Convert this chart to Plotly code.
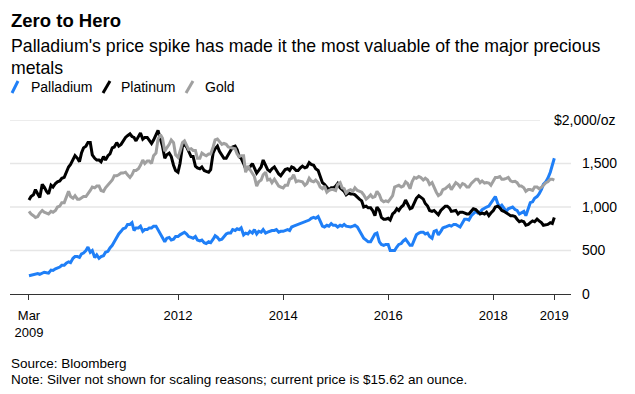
import pandas as pd
import plotly.graph_objects as go

# Semi-monthly dates (1st and 15th of each month), Mar 2009 - Mar 2019
dates = pd.date_range("2009-03-01", "2019-03-01", freq="SMS")

palladium = [
    210, 215, 220, 230, 235, 225, 240, 250, 245, 240, 275, 270, 290, 300, 310, 330, 330, 355, 370, 360,
    410, 430, 430, 420, 460, 470, 500, 540, 480, 500, 420, 450, 410, 430, 440, 480, 490, 530, 560, 600, 650, 690, 720, 750,
    760, 800, 800, 820, 730, 760, 760, 780, 720, 740, 740, 760, 760, 780, 780, 740, 700, 660, 600, 640, 650, 620, 630, 660,
    660, 680, 700, 710, 690, 660, 650, 640, 660, 620, 610, 620, 590, 580, 600, 590, 630, 670, 650, 620, 630, 660, 690, 700,
    700, 740, 730, 750, 740, 760, 680, 700, 690, 720, 700, 740, 690, 720, 710, 740, 700, 710, 720, 730, 730, 740, 710, 720,
    720, 730, 740, 730, 770, 780, 790, 800, 810, 820, 830, 840, 850, 870, 880, 870, 890, 840, 780, 770, 790, 780, 810, 790,
    790, 770, 790, 780, 800, 780, 770, 770, 780, 790, 770, 730, 680, 640, 620, 600, 600, 650, 690, 700, 600, 570, 560, 570,
    570, 500, 500, 500, 540, 570, 580, 610, 630, 600, 560, 560, 620, 680, 700, 710, 710, 690, 700, 660, 640, 720, 730, 680,
    720, 760, 770, 780, 790, 780, 800, 800, 780, 770, 820, 860, 860, 850, 900, 920, 950, 930, 940, 970, 990, 1000, 1010, 1040,
    1080, 1120, 1040, 1000, 1020, 990, 950, 980, 990, 1000, 970, 960, 920, 930, 950, 900, 980, 1050, 1060, 1100, 1120, 1150, 1200, 1260,
    1290, 1330, 1400, 1480, 1560,
]

platinum = [
    1080, 1120, 1140, 1200, 1150, 1110, 1260, 1230, 1180, 1150, 1250, 1230, 1270, 1290, 1300, 1330, 1340, 1400, 1460, 1490,
    1540, 1590, 1560, 1520, 1620, 1680, 1700, 1740, 1740, 1600, 1560, 1540, 1540, 1520, 1580, 1540, 1590, 1610, 1680, 1690, 1740, 1700, 1720, 1760,
    1800, 1820, 1840, 1810, 1800, 1760, 1820, 1850, 1780, 1800, 1800, 1760, 1730, 1770, 1840, 1880, 1780, 1700, 1560, 1600, 1620, 1580, 1480, 1420,
    1400, 1500, 1700, 1720, 1690, 1640, 1580, 1580, 1470, 1450, 1440, 1460, 1420, 1410, 1400, 1430, 1620, 1670, 1700, 1640, 1600, 1560, 1560, 1600,
    1650, 1690, 1700, 1660, 1580, 1560, 1500, 1440, 1440, 1460, 1500, 1440, 1390, 1420, 1460, 1540, 1480, 1430, 1410, 1440, 1460, 1420, 1380, 1360,
    1400, 1430, 1440, 1420, 1460, 1450, 1420, 1420, 1450, 1470, 1450, 1460, 1510, 1490, 1480, 1440, 1420, 1350, 1280, 1260, 1230, 1200, 1220, 1220,
    1240, 1270, 1220, 1200, 1180, 1140, 1160, 1150, 1150, 1140, 1110, 1090, 1070, 1000, 1010, 990, 990, 960, 900, 1000, 960, 880, 860, 860,
    870, 850, 920, 940, 980, 960, 1000, 1020, 1080, 1040, 980, 990, 1060, 1100, 1130, 1110, 1090, 1040, 1010, 960, 950, 960, 930, 910,
    960, 980, 1010, 1010, 990, 950, 960, 960, 920, 940, 940, 930, 920, 920, 950, 980, 970, 950, 920, 930, 920, 940, 900, 930,
    960, 1000, 1010, 990, 960, 950, 930, 920, 900, 900, 890, 860, 830, 840, 830, 790, 800, 820, 840, 830, 860, 840, 820, 790,
    800, 800, 820, 810, 880,
]

gold = [
    950, 920, 900, 880, 890, 930, 960, 940, 930, 920, 950, 940, 960, 1000, 1010, 1050, 1050, 1120, 1180, 1120,
    1100, 1130, 1090, 1090, 1110, 1120, 1120, 1150, 1190, 1230, 1220, 1240, 1240, 1190, 1180, 1220, 1250, 1270, 1310, 1360, 1360, 1370, 1390, 1390,
    1400, 1370, 1340, 1370, 1420, 1420, 1440, 1480, 1540, 1500, 1530, 1530, 1500, 1590, 1620, 1780, 1830, 1790, 1640, 1680, 1720, 1770, 1740, 1600,
    1570, 1640, 1740, 1760, 1710, 1660, 1670, 1650, 1650, 1560, 1560, 1620, 1600, 1590, 1610, 1610, 1690, 1770, 1780, 1750, 1720, 1730, 1720, 1690,
    1680, 1680, 1670, 1610, 1580, 1590, 1590, 1400, 1470, 1430, 1390, 1350, 1240, 1290, 1310, 1370, 1400, 1310, 1320, 1280, 1320, 1280, 1240, 1230,
    1220, 1250, 1250, 1320, 1330, 1370, 1290, 1300, 1290, 1290, 1250, 1270, 1330, 1300, 1290, 1310, 1280, 1230, 1210, 1240, 1170, 1190, 1200, 1200,
    1190, 1260, 1280, 1220, 1210, 1160, 1190, 1200, 1180, 1220, 1190, 1180, 1170, 1140, 1090, 1110, 1140, 1110, 1120, 1180, 1140, 1080, 1060, 1070,
    1060, 1090, 1130, 1230, 1240, 1250, 1230, 1240, 1290, 1270, 1210, 1290, 1340, 1330, 1350, 1340, 1310, 1330, 1310, 1260, 1280, 1220, 1170, 1130,
    1150, 1200, 1210, 1230, 1250, 1200, 1250, 1280, 1260, 1230, 1270, 1260, 1230, 1230, 1270, 1290, 1320, 1320, 1280, 1300, 1275, 1280, 1275, 1250,
    1310, 1340, 1340, 1350, 1320, 1320, 1330, 1340, 1300, 1290, 1295, 1280, 1240, 1240, 1220, 1180, 1200, 1200, 1190, 1230, 1230, 1210, 1225, 1250,
    1280, 1290, 1320, 1320, 1310,
]

series_names = ["Palladium", "Platinum", "Gold"]
series_colors = ["#1F7FF7", "#000000", "#A0A0A0"]

x_tick_vals = ["2009-03-01", "2012-01-01", "2014-01-01", "2016-01-01", "2018-01-01", "2019-03-01"]
x_tick_text = ["Mar<br>2009", "2012", "2014", "2016", "2018", "2019"]
y_tick_vals = [0, 500, 1000, 1500]
y_tick_text = ["0", "500", "1,000", "1,500"]
y_top_label = "$2,000/oz"

FONT = "Liberation Sans, Arial, sans-serif"
W, H = 635, 394
PL, PR, PT, PB = 10, 571, 120, 294  # plot area in pixels


def px(xp):
    return (xp - PL) / (PR - PL)


def py(yp):
    return (PB - yp) / (PB - PT)


fig = go.Figure()
for name, vals, col in zip(series_names, [palladium, platinum, gold], series_colors):
    fig.add_trace(go.Scatter(x=dates, y=vals, mode="lines", name=name,
                             line=dict(color=col, width=3), showlegend=False,
                             hoverinfo="skip"))

shapes = []
# gridlines
for v in [500, 1000, 1500]:
    shapes.append(dict(type="line", xref="paper", yref="y", x0=0, x1=1, y0=v, y1=v,
                       line=dict(color="#E6E6E6", width=1.3), layer="below"))
shapes.append(dict(type="line", xref="paper", yref="y", x0=0, x1=px(540), y0=2000, y1=2000,
                   line=dict(color="#E6E6E6", width=1.3), layer="below"))

annotations = []
# legend
leg_sw = [(12, 18), (103, 110), (186, 193)]
leg_tx = [29, 119, 203]
for (a, b), tx, name, col in zip(leg_sw, leg_tx, series_names, series_colors):
    shapes.append(dict(type="line", xref="paper", yref="paper", x0=px(a), x1=px(b),
                       y0=py(93), y1=py(81), line=dict(color=col, width=3)))
    annotations.append(dict(text=name, xref="paper", yref="paper", x=px(tx), y=py(87),
                            xanchor="left", yanchor="middle", showarrow=False,
                            font=dict(size=14, color="#000", family=FONT)))

annotations += [
    dict(text="<b>Zero to Hero</b>", xref="paper", yref="paper", x=px(9), y=py(20),
         xanchor="left", yanchor="middle", showarrow=False,
         font=dict(size=18.5, color="#000", family=FONT)),
    dict(text="Palladium's price spike has made it the most valuable of the major precious",
         xref="paper", yref="paper", x=px(9), y=py(46), xanchor="left", yanchor="middle",
         showarrow=False, font=dict(size=17.7, color="#000", family=FONT)),
    dict(text="metals", xref="paper", yref="paper", x=px(9), y=py(68), xanchor="left",
         yanchor="middle", showarrow=False, font=dict(size=17.7, color="#000", family=FONT)),
    dict(text="Source: Bloomberg", xref="paper", yref="paper", x=px(9), y=py(363),
         xanchor="left", yanchor="middle", showarrow=False,
         font=dict(size=13.5, color="#000", family=FONT)),
    dict(text="Note: Silver not shown for scaling reasons; current price is $15.62 an ounce.",
         xref="paper", yref="paper", x=px(9), y=py(379), xanchor="left", yanchor="middle",
         showarrow=False, font=dict(size=13.5, color="#000", family=FONT)),
    dict(text=y_top_label, xref="paper", yref="y", x=px(618), y=2000, xanchor="right",
         yanchor="middle", showarrow=False, font=dict(size=14, color="#000", family=FONT)),
]

fig.update_layout(
    width=W, height=H,
    margin=dict(l=PL, r=W - PR, t=PT, b=H - PB),
    paper_bgcolor="white", plot_bgcolor="white",
    font=dict(family=FONT, color="#000"),
    shapes=shapes, annotations=annotations,
    xaxis=dict(type="date", range=["2008-10-20", "2019-06-25"],
               tickvals=x_tick_vals, ticktext=x_tick_text,
               showgrid=False, zeroline=False, showline=True, linecolor="#333", linewidth=1,
               ticks="outside", ticklen=5, tickcolor="#333", tickwidth=1,
               tickfont=dict(size=13, color="#000", family=FONT), ticklabelstandoff=4),
    yaxis=dict(range=[0, 2000], side="right", tickvals=y_tick_vals, ticktext=y_tick_text,
               showgrid=False, zeroline=False, showline=False, ticks="",
               tickfont=dict(size=14, color="#000", family=FONT), ticklabelstandoff=10),
)

fig.write_html("out.html", config={"displayModeBar": False},
               post_script="document.body.style.margin='0';document.body.style.padding='0';")
